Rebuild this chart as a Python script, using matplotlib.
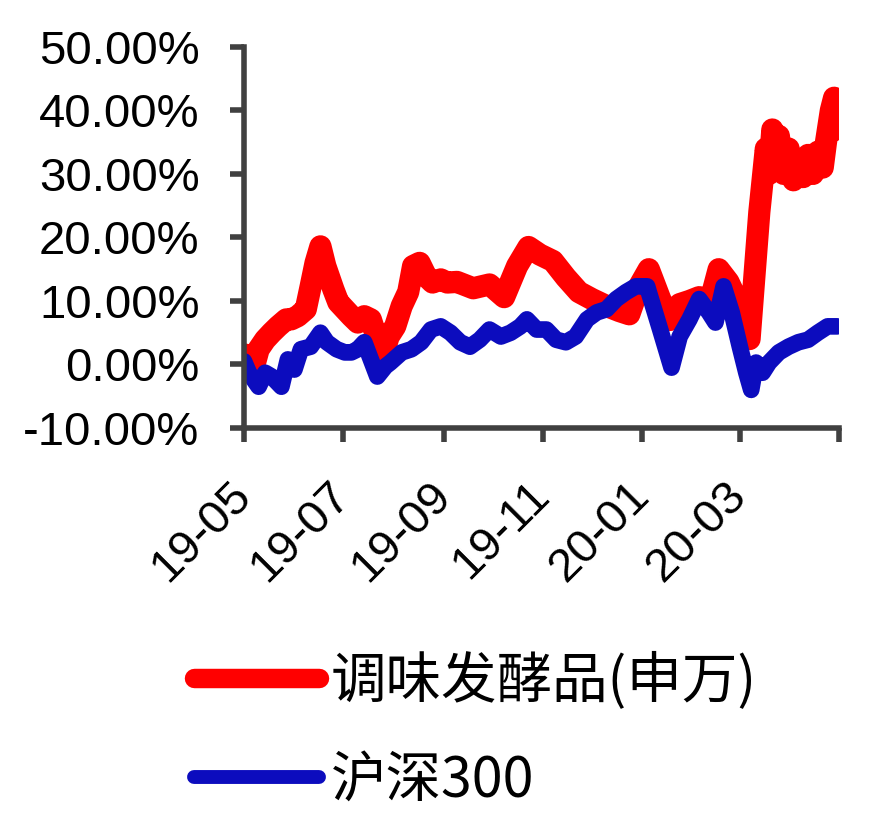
import matplotlib
matplotlib.use('Agg')
import matplotlib.pyplot as plt
import pandas as pd
from matplotlib.font_manager import FontProperties

# ---- data ----
series_names = ['调味发酵品(申万)', '沪深300']

red_dates = ['2019-05-01', '2019-05-05', '2019-05-08', '2019-05-10', '2019-05-14', '2019-05-18',
             '2019-05-22', '2019-05-27', '2019-05-30', '2019-06-03', '2019-06-08', '2019-06-11',
             '2019-06-14', '2019-06-17', '2019-06-20', '2019-06-25', '2019-06-28', '2019-07-02',
             '2019-07-06', '2019-07-10', '2019-07-14', '2019-07-18', '2019-07-22', '2019-07-26',
             '2019-07-29', '2019-08-02', '2019-08-06', '2019-08-10', '2019-08-13', '2019-08-17',
             '2019-08-21', '2019-08-25', '2019-08-30', '2019-09-03', '2019-09-09', '2019-09-19',
             '2019-09-29', '2019-10-08', '2019-10-16', '2019-10-23', '2019-10-30', '2019-11-07',
             '2019-11-15', '2019-11-23', '2019-12-01', '2019-12-10', '2019-12-18', '2019-12-24',
             '2019-12-30', '2020-01-05', '2020-01-12', '2020-01-18', '2020-01-24', '2020-01-30',
             '2020-02-05', '2020-02-11', '2020-02-17', '2020-02-23', '2020-03-01', '2020-03-05',
             '2020-03-07', '2020-03-10', '2020-03-13', '2020-03-17', '2020-03-19', '2020-03-21',
             '2020-03-23', '2020-03-25', '2020-03-28', '2020-03-31', '2020-04-03', '2020-04-06',
             '2020-04-09', '2020-04-12', '2020-04-15', '2020-04-18', '2020-04-21', '2020-04-23',
             '2020-04-26', '2020-04-28', '2020-04-30']
red_values = [1.6, 0.8, 0.5, 2.4, 3.9, 5.0,
              6.0, 7.1, 7.1, 7.6, 8.7, 12.3,
              16.0, 18.6, 15.5, 11.8, 9.8, 8.7,
              7.6, 6.6, 7.6, 7.1, 3.9, 1.9,
              4.4, 6.0, 9.2, 11.4, 15.5, 16.0,
              13.9, 12.9, 13.4, 12.9, 13.0, 12.0,
              12.6, 10.6, 15.5, 18.5, 17.3, 16.3,
              13.7, 11.4, 10.3, 9.2, 8.4, 7.9,
              12.3, 15.0, 10.3, 7.0, 9.5, 10.0,
              10.6, 9.2, 15.0, 13.0, 9.2, 4.0,
              4.0, 14.0, 24.0, 34.0, 30.0, 37.0,
              33.0, 36.0, 30.0, 34.0, 29.0, 32.0,
              29.5, 33.0, 30.0, 33.5, 31.0, 35.0,
              40.0, 42.0, 37.0]

blue_dates = ['2019-05-01', '2019-05-04', '2019-05-10', '2019-05-14', '2019-05-18', '2019-05-24',
              '2019-05-28', '2019-06-01', '2019-06-05', '2019-06-11', '2019-06-17', '2019-06-21',
              '2019-06-27', '2019-07-02', '2019-07-06', '2019-07-10', '2019-07-14', '2019-07-18',
              '2019-07-22', '2019-07-27', '2019-07-30', '2019-08-06', '2019-08-12', '2019-08-18',
              '2019-08-24', '2019-08-30', '2019-09-05', '2019-09-11', '2019-09-17', '2019-09-23',
              '2019-09-29', '2019-10-06', '2019-10-12', '2019-10-18', '2019-10-22', '2019-10-28',
              '2019-11-03', '2019-11-09', '2019-11-15', '2019-11-21', '2019-11-28', '2019-12-04',
              '2019-12-10', '2019-12-16', '2019-12-22', '2019-12-28', '2020-01-04', '2020-01-05',
              '2020-01-12', '2020-01-19', '2020-01-24', '2020-01-30', '2020-02-05', '2020-02-11',
              '2020-02-15', '2020-02-20', '2020-02-25', '2020-03-01', '2020-03-05', '2020-03-08',
              '2020-03-11', '2020-03-15', '2020-03-19', '2020-03-25', '2020-03-31', '2020-04-06',
              '2020-04-12', '2020-04-18', '2020-04-24', '2020-04-30']
blue_values = [0.5, -1.3, -3.5, -1.3, -1.9, -3.5,
               0.8, -0.8, 2.4, 2.8, 5.0, 3.5,
               2.4, 1.9, 1.9, 2.4, 3.5, 0.8,
               -1.9, -0.3, 0.3, 1.9, 2.4, 3.5,
               5.5, 6.0, 5.0, 3.5, 2.8, 3.9,
               5.5, 4.4, 5.0, 6.0, 7.1, 5.5,
               5.5, 3.9, 3.5, 4.4, 7.1, 8.2,
               8.7, 10.3, 11.4, 12.3, 12.3, 11.4,
               5.5, -0.5, 4.4, 7.1, 10.3, 8.2,
               6.6, 12.3, 8.2, 2.8, -1.3, -4.0,
               0.3, -1.3, 0.3, 1.9, 2.8, 3.5,
               3.9, 5.0, 6.0, 6.0]

tick_dates = ['2019-05-01', '2019-07-01', '2019-09-01', '2019-11-01',
              '2020-01-01', '2020-03-01', '2020-05-01']
tick_labels = ['19-05', '19-07', '19-09', '19-11', '20-01', '20-03', '']
y_ticks = [-10, 0, 10, 20, 30, 40, 50]

# ---- figure ----
axis_color = '#404040'
fig = plt.figure(figsize=(8.88, 8.32), dpi=100)
fig.patch.set_facecolor('white')
ax = fig.add_axes([0.2748, 0.4856, 0.670, 0.458])

ax.plot(pd.to_datetime(red_dates), red_values, color='#FF0000', lw=16,
        solid_joinstyle='round', solid_capstyle='round', label=series_names[0])
ax.plot(pd.to_datetime(blue_dates), blue_values, color='#0C0CBE', lw=12,
        solid_joinstyle='round', solid_capstyle='round', label=series_names[1])

ax.set_ylim(-10, 50)
ax.set_yticks(y_ticks)
ax.set_yticklabels([f'{v:.2f}%' for v in y_ticks])
ax.set_xlim(pd.Timestamp(tick_dates[0]), pd.Timestamp(tick_dates[-1]))
ax.set_xticks(pd.to_datetime(tick_dates))
ax.set_xticklabels(tick_labels)

for s in ['top', 'right']:
    ax.spines[s].set_visible(False)
for s in ['left', 'bottom']:
    ax.spines[s].set_color(axis_color)
    ax.spines[s].set_linewidth(4)

tick_font = FontProperties(family=['Liberation Sans', 'DejaVu Sans'], size=34)
ax.tick_params(axis='both', direction='out', length=10, width=4, color=axis_color)
ax.tick_params(axis='y', pad=22)
ax.tick_params(axis='x', pad=34)
for lab in ax.get_yticklabels():
    lab.set_fontproperties(tick_font)
for lab in ax.get_xticklabels():
    lab.set_fontproperties(tick_font)
    lab.set_rotation(45)
    lab.set_ha('right')
    lab.set_va('center')
    lab.set_rotation_mode('anchor')

leg_font = FontProperties(family=['Noto Sans CJK SC', 'DejaVu Sans'], size=40)
handles, labels = ax.get_legend_handles_labels()
leg = fig.legend(handles, labels, loc='upper left', bbox_to_anchor=(0.219, 0.216),
                 frameon=False, prop=leg_font, handlelength=2.25, handletextpad=0.2,
                 labelspacing=0.75, borderpad=0, borderaxespad=0)
for line, w in zip(leg.get_lines(), [14, 10]):
    line.set_linewidth(w)

fig.savefig('out.png', dpi=100, facecolor='white')
